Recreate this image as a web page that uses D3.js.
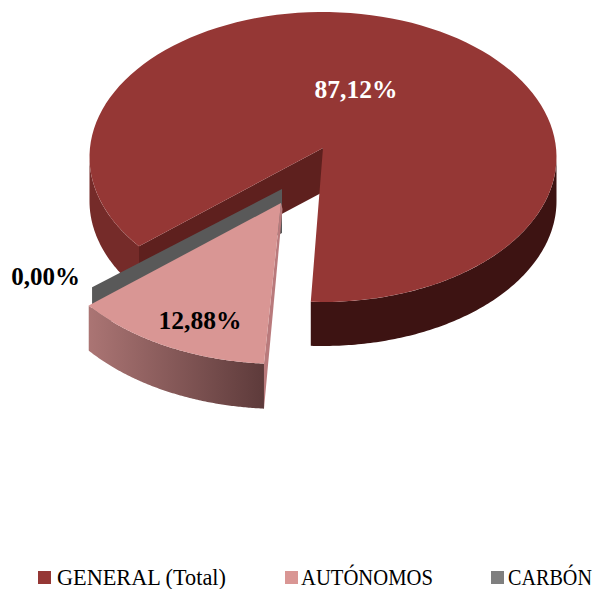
<!DOCTYPE html>
<html>
<head>
<meta charset="utf-8">
<script src="https://cdn.jsdelivr.net/npm/d3@7"></script>
<style>
html, body { margin: 0; padding: 0; background: #fff; }
svg { display: block; }
text { font-family: "Liberation Serif", serif; }
</style>
</head>
<body>
<div id="pie"></div>
<script>
var categories = ['GENERAL (Total)', 'AUTÓNOMOS', 'CARBÓN'];
var values = [87.12, 12.88, 0];

var width = 597, height = 589;
var colors = ['#953735', '#d99694', '#7f7f7f'];
var deg = Math.PI / 180;

var svg = d3.select('#pie').append('svg')
    .attr('width', width)
    .attr('height', height);

var grad = svg.append('defs').append('linearGradient')
    .attr('id', 'autWall')
    .attr('gradientUnits', 'userSpaceOnUse')
    .attr('x1', 88).attr('x2', 263).attr('y1', 0).attr('y2', 0);
grad.append('stop').attr('offset', 0).attr('stop-color', '#ab7574');
grad.append('stop').attr('offset', 1).attr('stop-color', '#5e3b3b');

// pie angles, the gap is pulled a bit wider because of the perspective
var startAngle = -128 * deg;
var pie = d3.pie().sort(null).value(d => d)
    .startAngle(startAngle).endAngle(startAngle + 360 * deg);
var arcs = pie(values);

var warp = d3.scaleLinear()
    .domain([startAngle, arcs[0].endAngle, startAngle + 360 * deg])
    .range([startAngle, 183 * deg, startAngle + 360 * deg]);

var depth = 44;
var line = d3.line();

// each slice has its own apex and scale, rim ellipse centre sits below the apex
var mainG = {ax: 323, ay: 148, rx: 233.5, ry: 145, off: 9};
var autG = {ax: 281, ay: 203, rx: 244, ry: 152, off: 9};
var carbG = {ax: 282, ay: 189, rx: 241, ry: 145, off: 9};

function rimPoint(g, a) {
    return [g.ax + g.rx * Math.sin(a), g.ay + g.off - g.ry * Math.cos(a)];
}

function rim(g, a0, a1) {
    var n = 120;
    return d3.range(n + 1).map(i => rimPoint(g, a0 + (a1 - a0) * i / n));
}

function down(pts, h) {
    return pts.map(p => [p[0], p[1] + h]).reverse();
}

function wallPath(g, a0, a1, h) {
    var r = rim(g, a0, a1);
    return line(r.concat(down(r, h))) + 'Z';
}

function topPath(g, a0, a1) {
    return line([[g.ax, g.ay]].concat(rim(g, a0, a1))) + 'Z';
}

function facePath(g, a, h) {
    var p = rimPoint(g, a);
    return line([[g.ax, g.ay], p, [p[0], p[1] + h], [g.ax, g.ay + h]]) + 'Z';
}

var a0 = warp(arcs[0].startAngle), a1 = warp(arcs[0].endAngle);
var b0 = warp(arcs[1].startAngle) + 1 * deg, b1 = warp(arcs[1].endAngle);
var c0 = warp(arcs[2].endAngle) - 360 * deg;

// main slice
svg.append('path').attr('d', wallPath(mainG, 232 * deg, 270 * deg, depth)).attr('fill', '#752b29');
svg.append('path').attr('d', facePath(mainG, a0, depth)).attr('fill', '#5e201e');
svg.append('path').attr('d', wallPath(mainG, 90 * deg, a1, depth)).attr('fill', '#3d1312');
svg.append('path').attr('d', topPath(mainG, a0, a1)).attr('fill', colors[0]);

// carbon has no angle, only its cut side shows
svg.append('path').attr('d', facePath(carbG, c0, depth)).attr('fill', '#595959');

// autonomos slice
var strip = rimPoint(autG, b0);
svg.append('path')
    .attr('d', line([[autG.ax, autG.ay], strip, [strip[0], strip[1] + depth + 1], [autG.ax + 1.5, autG.ay + 6]]) + 'Z')
    .attr('fill', '#b97a7c');
svg.append('path').attr('d', wallPath(autG, b0, b1, depth + 1)).attr('fill', 'url(#autWall)');
svg.append('path').attr('d', topPath(autG, b0, b1)).attr('fill', colors[1]);

// labels
var fmt = d3.formatLocale({decimal: ',', thousands: '.', grouping: [3], currency: ['', '']}).format('.2f');
var labelPos = [
    {x: 356, y: 98, size: 25.5, fill: '#fff'},
    {x: 200, y: 329, size: 25.5, fill: '#000'},
    {x: 45.5, y: 285, size: 25, fill: '#000'}
];
svg.append('g').selectAll('text')
    .data(values)
    .enter()
    .append('text')
    .attr('x', (d, i) => labelPos[i].x)
    .attr('y', (d, i) => labelPos[i].y)
    .attr('text-anchor', 'middle')
    .attr('font-weight', 'bold')
    .attr('font-size', (d, i) => labelPos[i].size)
    .attr('fill', (d, i) => labelPos[i].fill)
    .text(d => fmt(d) + '%');

// legend
var legendX = [38, 285, 491];
var legendTextX = [19, 16, 17];
var legendW = [169, 132, 84];
var legend = svg.append('g').selectAll('g')
    .data(categories)
    .enter()
    .append('g')
    .attr('transform', (d, i) => `translate(${legendX[i]},571)`);

legend.append('rect')
    .attr('width', 13)
    .attr('height', 13)
    .attr('fill', (d, i) => colors[i]);

// squeeze the tall text to the legend widths
legend.append('text')
    .attr('font-size', 24)
    .attr('fill', '#000')
    .text(d => d)
    .attr('transform', function(d, i) {
        var k = legendW[i] / this.getComputedTextLength();
        return `translate(${legendTextX[i]},14) scale(${k},1)`;
    });
</script>
</body>
</html>
